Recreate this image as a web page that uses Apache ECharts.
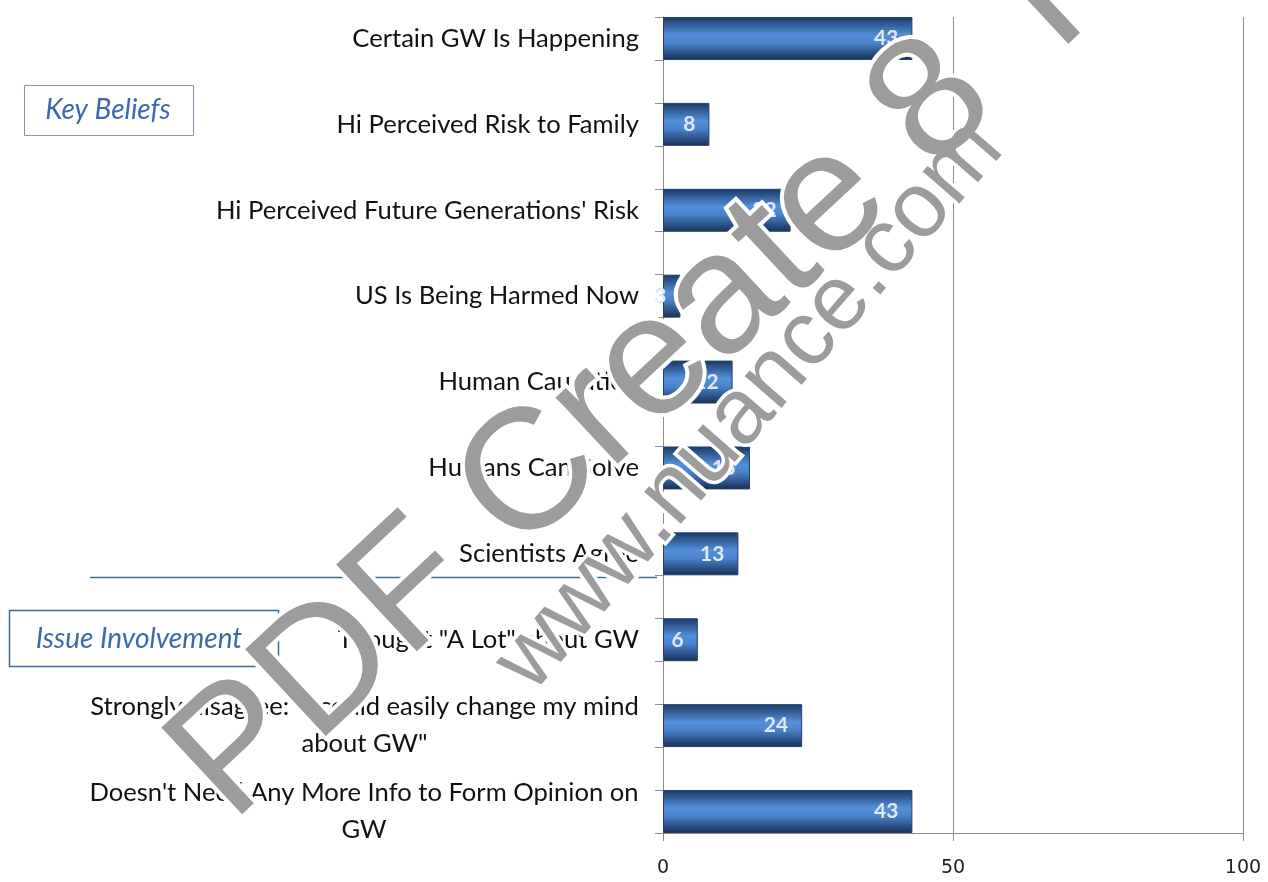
<!DOCTYPE html>
<html>
<head>
<meta charset="utf-8">
<script src="https://cdn.jsdelivr.net/npm/echarts@6/dist/echarts.min.js"></script>
<style>
html,body{margin:0;padding:0;background:#fff;}
#chart{width:1268px;height:882px;}
</style>
</head>
<body>
<div id="chart"></div>
<script>
// ---- data ----
var categories = [
  'Certain GW Is Happening',
  'Hi Perceived Risk to Family',
  "Hi Perceived Future Generations' Risk",
  'US Is Being Harmed Now',
  'Human Causation',
  'Humans Can Solve',
  'Scientists Agree',
  'Thought "A Lot" about GW',
  'Strongly disagree: "I could easily change my mind\nabout GW"',
  "Doesn't Need Any More Info to Form Opinion on\nGW"
];
var values = [43, 8, 22, 3, 12, 15, 13, 6, 24, 43];
var xTicks = [0, 50, 100];
var groupLabels = ['Key Beliefs', 'Issue Involvement'];
var watermarkMain = 'PDF Create 8 Trial';
var watermarkUrl = 'www.nuance.com';

// ---- build interleaved category layout (bars separated by empty bands) ----
var axisCats = [], seriesData = [];
categories.forEach(function (c, i) {
  if (i > 0) { axisCats.push(''); seriesData.push('-'); }
  axisCats.push(c);
  seriesData.push(values[i]);
});

var LBL_SIZE = 25.6;
var mctx = document.createElement('canvas').getContext('2d');
mctx.font = LBL_SIZE + 'px Lato';
var rich = {};
categories.forEach(function (c, i) {
  if (c.indexOf('\n') >= 0) {
    var w = Math.max.apply(null, c.split('\n').map(function (l) { return mctx.measureText(l).width; }));
    rich['c' + i] = { width: Math.ceil(w), align: 'center', fontFamily: 'Lato', fontSize: LBL_SIZE, color: '#111', lineHeight: 37 };
  }
});

function deg(d) { return d * Math.PI / 180; }

var chart = echarts.init(document.getElementById('chart'), null, {renderer: 'canvas'});
var option = {
  animation: false,
  backgroundColor: '#fff',
  grid: {left: 663, right: 25, top: 17, bottom: 49, containLabel: false},
  xAxis: {
    type: 'value', min: xTicks[0], max: xTicks[xTicks.length - 1], interval: xTicks[1] - xTicks[0],
    axisLine: {show: true, lineStyle: {color: '#8c8c8c', width: 1}},
    axisTick: {show: true, length: 8, lineStyle: {color: '#8c8c8c'}},
    axisLabel: {margin: 26, fontFamily: 'DejaVu Sans', fontSize: 19, color: '#222'},
    splitLine: {show: true, lineStyle: {color: '#8c8c8c', width: 1}}
  },
  yAxis: {
    type: 'category', inverse: true, data: axisCats,
    axisLine: {show: true, onZero: false, lineStyle: {color: '#8c8c8c', width: 1}},
    axisTick: {show: true, interval: 0, length: 8, lineStyle: {color: '#8c8c8c'}},
    axisLabel: {
      interval: 0, margin: 24, fontFamily: 'Lato', fontSize: LBL_SIZE, color: '#111', lineHeight: 37, align: 'right',
      rich: rich,
      formatter: function (v) {
        var i = categories.indexOf(v);
        if (i >= 0 && v.indexOf('\n') >= 0) {
          return v.split('\n').map(function (l) { return '{c' + i + '|' + l + '}'; }).join('\n');
        }
        return v;
      }
    },
    splitLine: {show: false}
  },
  series: [{
    type: 'bar',
    data: seriesData,
    barWidth: '100%',
    itemStyle: {
      color: new echarts.graphic.LinearGradient(0, 0, 0, 1, [
        {offset: 0, color: '#1a3864'},
        {offset: 0.42, color: '#548fda'},
        {offset: 0.6, color: '#4a83cc'},
        {offset: 1, color: '#172f56'}
      ]),
      borderColor: '#22406c', borderWidth: 1
    },
    label: {
      show: true, position: 'insideRight', distance: 14,
      fontFamily: 'Lato', fontWeight: 'bold', fontSize: 21, color: '#dfe8f4'
    }
  }],
  graphic: [
    {type: 'rect', z: 10, shape: {x: 24.5, y: 85.5, width: 169, height: 50}, style: {fill: '#fff', stroke: '#8293b3', lineWidth: 1}},
    {type: 'text', z: 11, x: 108, y: 110, style: {text: groupLabels[0], font: 'italic 28px Lato', fill: '#3b68b0', textAlign: 'center', textVerticalAlign: 'middle'}},
    {type: 'line', z: 10, shape: {x1: 90, y1: 577.5, x2: 657, y2: 577.5}, style: {stroke: '#3a6f97', lineWidth: 1.5}},
    {type: 'rect', z: 10, shape: {x: 9.5, y: 610.5, width: 269, height: 56}, style: {fill: '#fff', stroke: '#3a6d96', lineWidth: 1.5}},
    {type: 'text', z: 11, x: 139, y: 639, style: {text: groupLabels[1], font: 'italic 28px Lato', fill: '#3b68b0', textAlign: 'center', textVerticalAlign: 'middle'}},
    // watermark (white halo + gray glyphs)
    {type: 'text', z: 50, x: 258, y: 852, rotation: deg(43), style: {text: watermarkMain, font: '172px "Liberation Sans"', fill: '#fff', stroke: '#fff', lineWidth: 8, textAlign: 'left', textVerticalAlign: 'bottom'}},
    {type: 'text', z: 51, x: 258, y: 852, rotation: deg(43), style: {text: watermarkMain, font: '172px "Liberation Sans"', fill: '#9c9c9c', textAlign: 'left', textVerticalAlign: 'bottom'}},
    {type: 'text', z: 50, x: 548, y: 708, rotation: deg(49), style: {text: watermarkUrl, font: '92px "Liberation Sans"', fill: '#fff', stroke: '#fff', lineWidth: 7, textAlign: 'left', textVerticalAlign: 'bottom'}},
    {type: 'text', z: 51, x: 548, y: 708, rotation: deg(49), style: {text: watermarkUrl, font: '92px "Liberation Sans"', fill: '#9c9c9c', textAlign: 'left', textVerticalAlign: 'bottom'}}
  ]
};
chart.setOption(option);
</script>
</body>
</html>
